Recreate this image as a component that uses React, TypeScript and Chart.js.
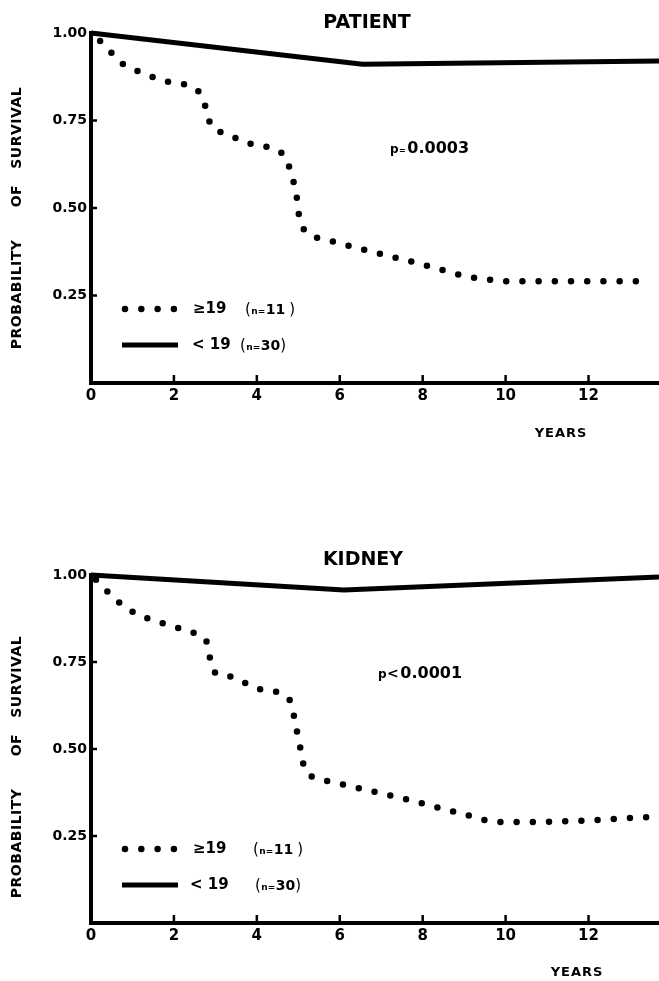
import React, { useEffect, useRef } from "react";
import { Chart, registerables } from "chart.js";

Chart.register(...registerables);

// ---------- data ----------
const xTickValues = [0, 2, 4, 6, 8, 10, 12];
const yTickValues = [0.25, 0.5, 0.75, 1.0];
const groupLabels = ["≥19", "< 19"];
const groupSizes = [11, 30];
const panelTitles = ["PATIENT", "KIDNEY"];
const pRelations = ["=", "<"];
const pValues = ["0.0003", "0.0001"];
const xAxisTitle = "YEARS";
const yAxisTitle = "PROBABILITY      OF   SURVIVAL";

// PATIENT survival, >=19 (dotted)
const patientHighYears = [0.22, 0.5, 0.77, 1.13, 1.88, 2.63, 2.77, 2.89, 3.22, 3.95, 4.7, 4.83, 4.95, 5.0, 5.09, 5.3, 5.69, 6.82, 7.95, 9.13, 9.5, 9.93, 13.2];
const patientHighSurv = [0.977, 0.943, 0.911, 0.891, 0.86, 0.829, 0.786, 0.737, 0.714, 0.68, 0.646, 0.594, 0.543, 0.491, 0.449, 0.423, 0.409, 0.374, 0.34, 0.303, 0.297, 0.291, 0.291];
// PATIENT survival, <19 (solid)
const patientLowYears = [0, 6.55, 13.7];
const patientLowSurv = [1.0, 0.911, 0.92];

// KIDNEY survival, >=19 (dotted)
const kidneyHighYears = [0.12, 0.41, 0.72, 1.06, 1.86, 2.58, 2.8, 2.87, 2.95, 3.31, 4.08, 4.81, 4.9, 4.98, 5.07, 5.14, 5.43, 5.82, 6.55, 7.68, 8.48, 9.23, 9.61, 10.02, 11.59, 13.55];
const kidneyHighSurv = [0.986, 0.951, 0.917, 0.891, 0.856, 0.828, 0.805, 0.761, 0.724, 0.71, 0.672, 0.638, 0.592, 0.543, 0.491, 0.448, 0.417, 0.405, 0.385, 0.353, 0.328, 0.305, 0.293, 0.29, 0.293, 0.305];
// KIDNEY survival, <19 (solid)
const kidneyLowYears = [0, 6.1, 13.7];
const kidneyLowSurv = [1.0, 0.957, 0.994];

const highYears = [patientHighYears, kidneyHighYears];
const highSurv = [patientHighSurv, kidneyHighSurv];
const lowYears = [patientLowYears, kidneyLowYears];
const lowSurv = [patientLowSurv, kidneyLowSurv];

// ---------- layout (pixels) ----------
const panelLayouts = [
  { height: 490, areaTop: 33, areaBottom: 383, titleX: 367, titleY: 28, yearsX: 561, yearsY: 434, pX: 390, pY: 153, yTitleX: 17, yTitleY: 218, groupX: [102, 101], nX: [154, 149] },
  { height: 491, areaTop: 85, areaBottom: 433, titleX: 363, titleY: 75, yearsX: 577, yearsY: 483, pX: 378, pY: 188, yTitleX: 17.5, yTitleY: 277, groupX: [102, 99], nX: [162, 164] },
];

const FONT = '"DejaVu Sans", "Liberation Sans", sans-serif';

function toXY(xs: number[], ys: number[]) {
  return xs.map((x, i) => ({ x, y: ys[i] }));
}

function drawRich(ctx: CanvasRenderingContext2D, parts: [string, string, number][], x: number, baseline: number) {
  let cx = x;
  ctx.textAlign = "left";
  ctx.textBaseline = "alphabetic";
  for (const [t, f, gap] of parts) {
    ctx.font = f;
    ctx.fillText(t, cx, baseline);
    cx += ctx.measureText(t).width + gap;
  }
}

function makeDecor(idx: number) {
  return {
    id: "decor" + idx,
    afterDraw(chart: any) {
      const L = panelLayouts[idx];
      const { ctx, chartArea: a, scales } = chart;
      ctx.save();
      ctx.fillStyle = "#000";
      ctx.strokeStyle = "#000";

      // inward tick marks
      ctx.lineWidth = 2.5;
      for (const v of xTickValues) {
        if (v === 0) continue;
        const px = scales.x.getPixelForValue(v);
        ctx.beginPath();
        ctx.moveTo(px, a.bottom);
        ctx.lineTo(px, a.bottom - 8);
        ctx.stroke();
      }
      for (const v of yTickValues) {
        const py = scales.y.getPixelForValue(v);
        ctx.beginPath();
        ctx.moveTo(a.left, py);
        ctx.lineTo(a.left + 6, py);
        ctx.stroke();
      }

      // panel title
      ctx.font = `bold 19px ${FONT}`;
      ctx.textAlign = "center";
      ctx.textBaseline = "alphabetic";
      ctx.fillText(panelTitles[idx], L.titleX, L.titleY);

      // x axis title
      ctx.font = `bold 13px ${FONT}`;
      ctx.letterSpacing = "1px";
      ctx.textBaseline = "middle";
      ctx.fillText(xAxisTitle, L.yearsX, L.yearsY);

      // y axis title
      ctx.save();
      ctx.translate(L.yTitleX, L.yTitleY);
      ctx.rotate(-Math.PI / 2);
      ctx.font = `bold 14px ${FONT}`;
      ctx.letterSpacing = "0.5px";
      ctx.textAlign = "center";
      ctx.textBaseline = "middle";
      ctx.fillText(yAxisTitle, 0, 0);
      ctx.restore();
      ctx.letterSpacing = "0px";

      // p value
      drawRich(
        ctx,
        [
          ["p", `bold 12px ${FONT}`, 0.5],
          [pRelations[idx], idx === 0 ? `bold 8px ${FONT}` : `bold 14px ${FONT}`, 1.5],
          [pValues[idx], `bold 16px ${FONT}`, 0],
        ],
        L.pX,
        L.pY
      );

      // legend
      const rows = [a.bottom - 74, a.bottom - 38];
      const ds = chart.data.datasets;
      const dotR = ds[0].borderWidth / 2;
      for (let k = 0; k < 4; k++) {
        ctx.beginPath();
        ctx.arc(a.left + 34 + k * 16.3, rows[0], dotR, 0, Math.PI * 2);
        ctx.fill();
      }
      ctx.fillRect(a.left + 31, rows[1] - ds[1].borderWidth / 2, 56, ds[1].borderWidth);
      for (let i = 0; i < 2; i++) {
        ctx.font = `bold 15px ${FONT}`;
        ctx.textAlign = "left";
        ctx.textBaseline = "middle";
        ctx.fillText(groupLabels[i], a.left + L.groupX[i], rows[i]);
        drawRich(
          ctx,
          [
            ["(", `15px ${FONT}`, 0.5],
            ["n=", `bold 9px ${FONT}`, 0.5],
            [String(groupSizes[i]), `bold 14px ${FONT}`, i === 0 ? 4 : 0],
            [")", `15px ${FONT}`, 0],
          ],
          a.left + L.nX[i],
          rows[i] + 5
        );
      }
      ctx.restore();
    },
  };
}

function Panel({ idx }: { idx: number }) {
  const ref = useRef<HTMLCanvasElement>(null);
  const L = panelLayouts[idx];
  useEffect(() => {
    const chart = new Chart(ref.current as HTMLCanvasElement, {
      type: "line",
      data: {
        datasets: [
          {
            label: groupLabels[0],
            data: toXY(highYears[idx], highSurv[idx]),
            borderColor: "#000",
            borderWidth: 6.5,
            borderDash: [0, 16.2],
            borderCapStyle: "round",
            pointRadius: 0,
            cubicInterpolationMode: "monotone",
            fill: false,
            clip: false,
          },
          {
            label: groupLabels[1],
            data: toXY(lowYears[idx], lowSurv[idx]),
            borderColor: "#000",
            borderWidth: 5,
            pointRadius: 0,
            tension: 0,
            borderJoinStyle: "round",
            fill: false,
            clip: false,
          },
        ],
      } as any,
      options: {
        responsive: false,
        animation: false,
        events: [],
        layout: { padding: { top: L.areaTop, left: 0, right: 0, bottom: 0 } },
        plugins: {
          legend: { display: false },
          title: { display: false },
          tooltip: { enabled: false },
        },
        scales: {
          x: {
            type: "linear",
            min: 0,
            max: 13.7,
            afterBuildTicks: (s: any) => {
              s.ticks = xTickValues.map((v) => ({ value: v }));
            },
            afterFit: (s: any) => {
              s.height = L.height - L.areaBottom;
            },
            ticks: {
              color: "#000",
              font: { family: FONT, size: 15, weight: "bold" },
              padding: 4,
              maxRotation: 0,
              autoSkip: false,
              callback: (v: any) => String(v),
            },
            grid: { display: true, drawOnChartArea: false, drawTicks: false },
            border: { display: true, color: "#000", width: 4 },
          },
          y: {
            type: "linear",
            min: 0,
            max: 1,
            afterBuildTicks: (s: any) => {
              s.ticks = yTickValues.map((v) => ({ value: v }));
            },
            afterFit: (s: any) => {
              s.width = 91;
            },
            ticks: {
              color: "#000",
              font: { family: FONT, size: 14, weight: "bold" },
              padding: 4,
              autoSkip: false,
              callback: (v: any) => Number(v).toFixed(2),
            },
            grid: { display: true, drawOnChartArea: false, drawTicks: false },
            border: { display: true, color: "#000", width: 4 },
          },
        },
      } as any,
      plugins: [makeDecor(idx)],
    });
    return () => chart.destroy();
  }, [idx]);
  return <canvas ref={ref} width={659} height={L.height} style={{ display: "block" }} />;
}

export default function App() {
  return (
    <div style={{ position: "fixed", left: 0, top: 0, width: 659, height: 981, background: "#fff" }}>
      <Panel idx={0} />
      <Panel idx={1} />
    </div>
  );
}
